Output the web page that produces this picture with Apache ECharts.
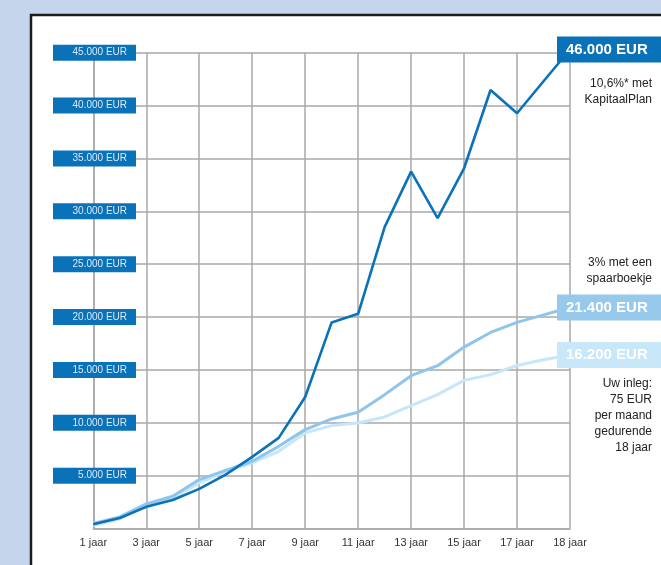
<!DOCTYPE html>
<html>
<head>
<meta charset="utf-8">
<script src="https://cdn.jsdelivr.net/npm/echarts@6/dist/echarts.min.js"></script>
<style>
html,body{margin:0;padding:0;background:#c5d5eb;}
#chart{width:661px;height:565px;}
</style>
</head>
<body>
<div id="chart"></div>
<script>
var xLabels = ['1 jaar','','3 jaar','','5 jaar','','7 jaar','','9 jaar','','11 jaar','','13 jaar','','15 jaar','','17 jaar','','18 jaar'];
var yTickLabels = ['', '5.000 EUR', '10.000 EUR', '15.000 EUR', '20.000 EUR', '25.000 EUR', '30.000 EUR', '35.000 EUR', '40.000 EUR', '45.000 EUR'];
var kapitaalPlan = [400, 1000, 2050, 2700, 3750, 5100, 6770, 8570, 12440, 19490, 20310, 28500, 33750, 29350, 34070, 41470, 39270, 42300, 45300];
var spaarboekje = [470, 1100, 2330, 3050, 4630, 5500, 6360, 7770, 9350, 10360, 10990, 12660, 14450, 15400, 17160, 18540, 19490, 20200, 20900];
var inleg = [280, 920, 2170, 2900, 4320, 5410, 6200, 7300, 9040, 9730, 9980, 10550, 11620, 12660, 14010, 14550, 15420, 15960, 16400];
var endValues = ['46.000 EUR', '21.400 EUR', '16.200 EUR'];
var noteKapitaal = ['10,6%* met', 'KapitaalPlan'];
var noteSpaar = ['3% met een', 'spaarboekje'];
var noteInleg = ['Uw inleg:', '75 EUR', 'per maand', 'gedurende', '18 jaar'];

var FONT = "'Liberation Sans', Arial, Helvetica, sans-serif";
var chart = echarts.init(document.getElementById('chart'), null, {renderer: 'canvas'});

function yLabel(v) { return yTickLabels[Math.round(v / 5000)] || ''; }

function endLabel(text, bg) {
  return {
    show: true,
    formatter: text,
    distance: -13,
    color: '#ffffff',
    fontFamily: FONT,
    fontSize: 15,
    fontWeight: 'bold',
    lineHeight: 15,
    backgroundColor: bg,
    padding: [6, 40, 5, 9]
  };
}

function noteText(lines, y) {
  return {
    type: 'text', x: 652, y: y, z: 20,
    style: {text: lines.join('\n'), fill: '#222222', font: '12px ' + FONT, lineHeight: 16, align: 'right', verticalAlign: 'top'}
  };
}

var option = {
  animation: false,
  backgroundColor: '#c5d5eb',
  graphic: [
    {type: 'rect', z: -10, shape: {x: 31, y: 15, width: 700, height: 620}, style: {fill: '#ffffff', stroke: '#1c1c1c', lineWidth: 2.5}},
    noteText(noteKapitaal, 76),
    noteText(noteSpaar, 255),
    noteText(noteInleg, 376)
  ],
  grid: {left: 93.3, right: 91, top: 52.7, bottom: 36.5, containLabel: false},
  xAxis: {
    type: 'category',
    data: xLabels,
    boundaryGap: false,
    axisLine: {show: true, lineStyle: {color: '#a9a9a9', width: 1.5}},
    axisTick: {show: false},
    splitLine: {show: true, interval: 1, lineStyle: {color: '#a9a9a9', width: 1.5}},
    axisLabel: {interval: 1, margin: 9, color: '#333333', fontFamily: FONT, fontSize: 11}
  },
  yAxis: [{
    type: 'value', position: 'left', min: 0, max: 45000, interval: 5000,
    axisLine: {show: true, lineStyle: {color: '#a9a9a9', width: 1.5}},
    axisTick: {show: false},
    axisLabel: {show: false},
    splitLine: {show: true, lineStyle: {color: '#a9a9a9', width: 1.5}}
  }, {
    type: 'value', position: 'left', min: 0, max: 45000, interval: 5000, z: 10,
    axisLine: {show: false}, axisTick: {show: false}, splitLine: {show: false},
    axisLabel: {
      showMinLabel: false,
      formatter: yLabel,
      margin: -42.7,
      width: 70,
      align: 'right',
      color: '#dce9f6',
      fontFamily: FONT,
      fontSize: 10,
      lineHeight: 10,
      backgroundColor: '#0a72b9',
      padding: [3, 9, 3, 4]
    }
  }],
  series: [
    {
      type: 'line', name: 'inleg', data: inleg, yAxisIndex: 0, showSymbol: false, symbol: 'none', clip: false, z: 2,
      lineStyle: {color: '#c6e6f9', width: 3},
      endLabel: endLabel(endValues[2], '#c8e7f9')
    },
    {
      type: 'line', name: 'spaarboekje', data: spaarboekje, yAxisIndex: 0, showSymbol: false, symbol: 'none', clip: false, z: 3,
      lineStyle: {color: '#8fc5ea', width: 3},
      endLabel: endLabel(endValues[1], '#96c9ec')
    },
    {
      type: 'line', name: 'KapitaalPlan', data: kapitaalPlan, yAxisIndex: 0, showSymbol: false, symbol: 'none', clip: false, z: 4,
      lineStyle: {color: '#0a72b9', width: 2.6},
      endLabel: endLabel(endValues[0], '#0a72b9')
    }
  ]
};
chart.setOption(option);
</script>
</body>
</html>
